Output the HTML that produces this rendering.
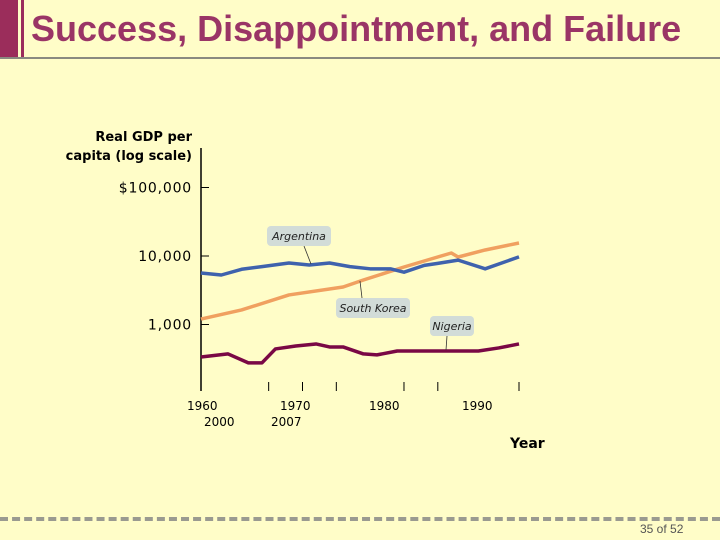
<!DOCTYPE html>
<html><head><meta charset="utf-8"><style>
body{margin:0;width:720px;height:540px;background:#fffdc8;position:relative;overflow:hidden;font-family:"Liberation Sans",sans-serif}
.t{position:absolute;white-space:nowrap}
</style></head><body>
<div style="position:absolute;left:0;top:0;width:18px;height:58px;background:#9b2d5b"></div>
<div style="position:absolute;left:21px;top:0;width:3px;height:58px;background:#9b2d5b"></div>
<div class="t" style="left:31px;top:8px;font-size:36px;font-weight:bold;color:#9a3566">Success, Disappointment, and Failure</div>
<div style="position:absolute;left:0;top:57px;width:720px;height:2px;background:#8a8a80"></div>
<div style="position:absolute;left:0;top:517px;width:720px;border-top:4px dashed #9a9a90"></div>
<div class="t" style="left:640px;top:522px;font-size:12px;color:#555">35 of 52</div>
<svg width="720" height="540" style="position:absolute;left:0;top:0" id="c"></svg>
<script>
const argYears=[1960,1963,1966,1969,1973,1976,1979,1982,1985,1988,1990,1993,1995,1998,2002,2007];
const argVals=[5650,5280,6400,7000,7900,7400,7900,7000,6500,6500,5800,7300,7800,8700,6500,9700];
const korYears=[1960,1966,1973,1981,1984,1990,1997,1998,2002,2007];
const korVals=[1200,1630,2700,3530,4460,6910,11060,9670,12240,15480];
const nigYears=[1960,1964,1967,1969,1971,1974,1977,1979,1981,1984,1986,1989,1992,1998,2001,2004,2007];
const nigVals=[335,372,275,275,440,485,520,470,470,372,360,410,410,410,410,455,520];
const yTicks=[100000,10000,1000];
const yTickLabels=["$100,000","10,000","1,000"];
const xTicks=[1960,1970,1975,1980,1990,1995,2007];
const NS="http://www.w3.org/2000/svg",svg=document.getElementById('c');
const X=y=>201+(y-1960)*318/47;
const Y=v=>256-(Math.log10(v)-4)*68.5;
function mk(t,a,p){const e=document.createElementNS(NS,t);for(const k in a)e.setAttribute(k,a[k]);(p||svg).appendChild(e);return e;}
let e=mk('line',{x1:201,y1:148,x2:201,y2:391,stroke:'#000','stroke-width':1.5});


yTicks.forEach((v,i)=>{
 let l=mk('line',{x1:201,y1:Y(v),x2:209,y2:Y(v),stroke:'#000'});
 
 
 let t=mk('text',{x:192,y:Y(v)+5,'text-anchor':'end','font-size':14,'letter-spacing':0.8,'font-family':'DejaVu Sans, sans-serif'});
 t.textContent=yTickLabels[i];
 
 
});
xTicks.forEach((y,i)=>{
 let l=mk('line',{x1:X(y),y1:i==0?371:382,x2:X(y),y2:391,stroke:'#000'});
 
 
});
[["1960",187,410],["1970",280,410],["1980",369,410],["1990",462,410],["2000",204,426],["2007",271,426]].forEach(a=>{
 let t=mk('text',{x:a[1],y:a[2],'font-size':12,'font-family':'DejaVu Sans, sans-serif'});
 t.textContent=a[0];
 
 
});
function series(ys,vs,col,name){
 let p=mk('polyline',{points:ys.map((y,i)=>X(y)+','+Y(vs[i])).join(' '),fill:'none',stroke:col,'stroke-width':3.5,'stroke-linejoin':'round'});
 
 
}
series(korYears,korVals,'#f0a060','south-korea-line');
series(argYears,argVals,'#3f62ad','argentina-line');
series(nigYears,nigVals,'#7a0845','nigeria-line');
function label(txt,x,y,w,lx1,ly1,lx2,ly2,name){
 let l=mk('line',{x1:lx1,y1:ly1,x2:lx2,y2:ly2,stroke:'#333','stroke-width':0.8});
 
 
 let r=mk('rect',{x:x,y:y,width:w,height:20,rx:4,fill:'#d2dcd8'});
 
 
 let t=mk('text',{x:x+w/2,y:y+14,'text-anchor':'middle','font-size':11,'font-style':'italic','font-family':'DejaVu Sans, sans-serif',fill:'#222'});
 t.textContent=txt;
 
 
}
label('Argentina',267,226,64,304,246,311,264,'argentina-label');
label('South Korea',336,298,74,362,298,360,281,'south-korea-label');
label('Nigeria',430,316,44,447,336,446,350,'nigeria-label');
let tt=mk('text',{x:192,y:141,'text-anchor':'end','font-size':13,'font-weight':'bold','font-family':'DejaVu Sans, sans-serif'});tt.textContent='Real GDP per';


let t2=mk('text',{x:192,y:160,'text-anchor':'end','font-size':13,'font-weight':'bold','font-family':'DejaVu Sans, sans-serif'});t2.textContent='capita (log scale)';


let xt=mk('text',{x:510,y:448,'font-size':14,'font-weight':'bold','font-family':'DejaVu Sans, sans-serif'});xt.textContent='Year';


</script>
</body></html>
